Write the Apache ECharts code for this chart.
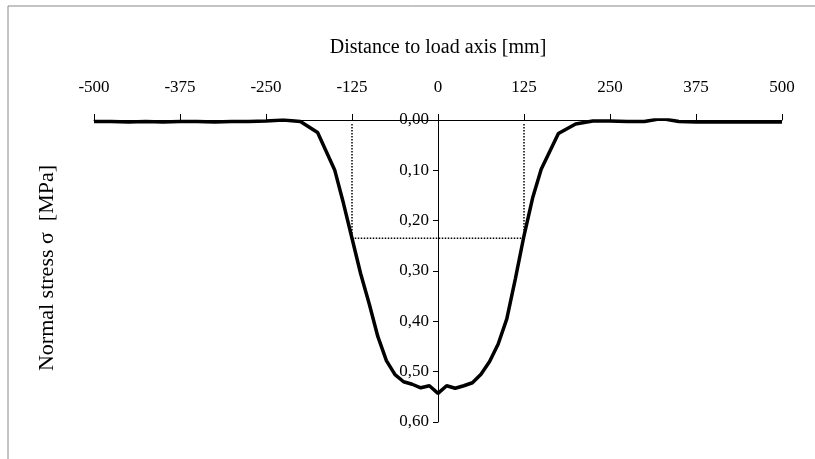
<!DOCTYPE html>
<html>
<head>
<meta charset="utf-8">
<script src="https://cdn.jsdelivr.net/npm/echarts@6/dist/echarts.min.js"></script>
<style>html,body{margin:0;padding:0;background:#fff}#c{width:815px;height:459px}</style>
</head>
<body>
<div id="c"></div>
<script>
var xTicks = [-500, -375, -250, -125, 0, 125, 250, 375, 500];
var distance = [-500,-475,-450,-425,-400,-375,-350,-325,-300,-275,-250,-225,-200,-175,-150,-137.5,-125,-112.5,-100,-87.5,-75,-62.5,-50,-37.5,-25,-12.5,0,12.5,25,37.5,50,62.5,75,87.5,100,112.5,125,137.5,150,175,200,225,250,275,300,325,350,375,400,425,450,475,500];
var stress = [0.003,0.003,0.004,0.003,0.004,0.003,0.003,0.004,0.003,0.003,0.002,0.000,0.003,0.025,0.100,0.165,0.235,0.305,0.365,0.430,0.478,0.506,0.520,0.525,0.532,0.528,0.543,0.528,0.533,0.528,0.522,0.505,0.480,0.445,0.395,0.315,0.230,0.155,0.098,0.027,0.008,0.002,0.002,0.003,0.003,-0.003,0.003,0.004,0.004,0.004,0.004,0.004,0.004];
var refX = [-125, -125, 125, 125];
var refY = [0.008, 0.235, 0.235, 0.008];

var FONT = '"Liberation Serif", "Times New Roman", serif';
var chart = echarts.init(document.getElementById('c'), null, {renderer: 'canvas'});
chart.setOption({
  animation: false,
  backgroundColor: '#fff',
  grid: {left: 94, right: 33, top: 120, bottom: 37},
  xAxis: {
    type: 'value', position: 'top', min: -500, max: 500, interval: 125,
    name: 'Distance to load axis [mm]', nameLocation: 'middle', nameGap: 62,
    nameTextStyle: {fontFamily: FONT, fontSize: 20, color: '#000'},
    axisLine: {onZero: false, lineStyle: {color: '#000', width: 1}},
    axisTick: {show: true, length: 6, lineStyle: {color: '#000'}},
    axisLabel: {fontFamily: FONT, fontSize: 17, color: '#000', margin: 24},
    splitLine: {show: false}
  },
  yAxis: {
    type: 'value', inverse: true, min: 0, max: 0.6, interval: 0.1,
    position: 'left', offset: -344,
    axisLine: {onZero: false, lineStyle: {color: '#000', width: 1}},
    axisTick: {show: true, length: 5, lineStyle: {color: '#000'}},
    axisLabel: {fontFamily: FONT, fontSize: 17, color: '#000', margin: 9,
      formatter: function (v) { return v.toFixed(2).replace('.', ','); }},
    splitLine: {show: false}
  },
  graphic: [
    {type: 'line', shape: {x1: 8, y1: 6, x2: 815, y2: 6}, style: {stroke: '#888', lineWidth: 1}},
    {type: 'line', shape: {x1: 8, y1: 6, x2: 8, y2: 459}, style: {stroke: '#888', lineWidth: 1}},
    {type: 'text', x: 47, y: 268, rotation: Math.PI / 2, style: {
      text: 'Normal stress σ  [MPa]', font: '22px ' + FONT, fill: '#000',
      textAlign: 'center', textVerticalAlign: 'middle'}}
  ],
  series: [
    {
      type: 'line', symbol: 'none', z: 1,
      data: refX.map(function (x, i) { return [x, refY[i]]; }),
      lineStyle: {color: '#000', width: 1.5, type: [1.5, 1.5]}
    },
    {
      type: 'line', symbol: 'none', z: 3,
      data: distance.map(function (x, i) { return [x, stress[i]]; }),
      lineStyle: {color: '#000', width: 3.5}
    }
  ]
});
</script>
</body>
</html>
